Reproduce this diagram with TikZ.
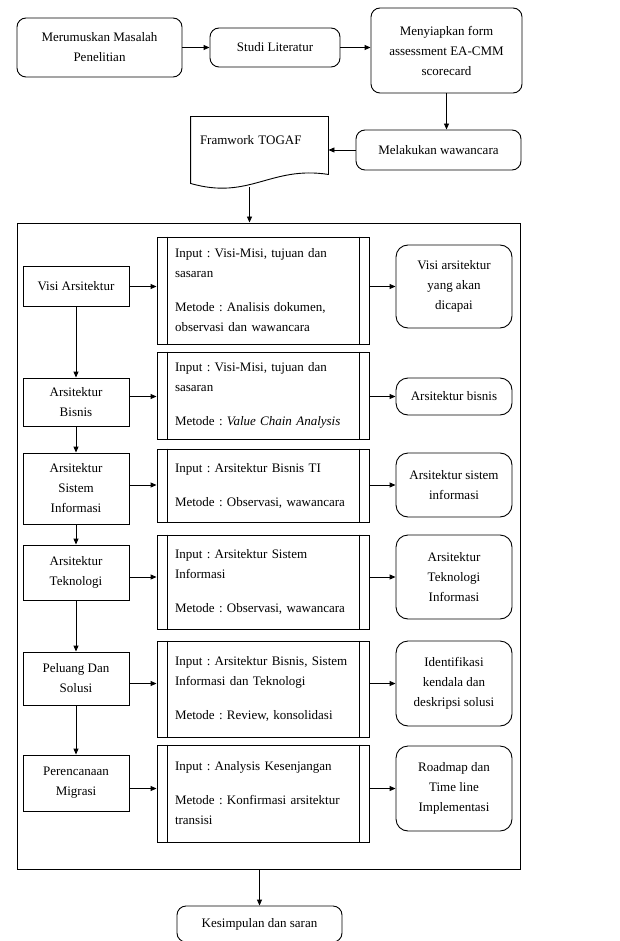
\documentclass[tikz,border=0pt]{standalone}
\usepackage{fontspec}
\setmainfont{Liberation Serif}
\usetikzlibrary{arrows.meta}
\usetikzlibrary{calc}
\frenchspacing

\begin{document}
\begin{tikzpicture}[x=1pt, y=-1pt, line width=0.9pt, >={Triangle[length=6pt,width=5pt]},
        every node/.append style={font=\fontsize{13}{20}\selectfont},
        round_style/.style={rectangle, rounded corners=9pt, draw, align=center, inner sep=2pt},
        result_style/.style={rectangle, rounded corners=12pt, draw, align=center, minimum width=116pt, inner sep=2pt},
        phase_style/.style={rectangle, draw, align=center, minimum width=106pt, inner sep=2pt},
        proc_style/.style={rectangle, draw, align=left, text width=176pt, inner xsep=18pt, inner ysep=2pt,
            append after command={
                ([xshift=11pt]\tikzlastnode.north west) edge[-] ([xshift=11pt]\tikzlastnode.south west)
                ([xshift=-10pt]\tikzlastnode.north east) edge[-] ([xshift=-10pt]\tikzlastnode.south east)}},
        doc_style/.style={rectangle, align=left, text width=119pt, inner xsep=9pt, inner ysep=0pt,
            text height=27.5pt, text depth=42.5pt},
        frame_style/.style={rectangle, draw, minimum width=503pt, minimum height=646pt},
        edge_style/.style={draw=black, ->}]

        \useasboundingbox (0,0) rectangle (619,941);
        \clip (0,0) rectangle (619,941);

        \node [round_style, minimum width=165pt, minimum height=59pt](n1) at (99.5,47.5) {Merumuskan Masalah\\Penelitian};

        \node [round_style, minimum width=130pt, minimum height=39pt](n2) at (275,47.5) {Studi Literatur};

        \node [round_style, minimum width=151pt, minimum height=85pt](n3) at (446.5,50.5) {Menyiapkan form\\assessment EA-CMM\\scorecard};

        \node [round_style, minimum width=165pt, minimum height=40pt](n4) at (438.5,150) {Melakukan wawancara};

        \node [doc_style](n5) at (259.5,152) {Framwork TOGAF};

        \draw (n5.north west) -- (n5.north east) -- ([yshift=13pt]n5.south east)
            .. controls ([xshift=-58pt,yshift=22pt]n5.south east) and ([xshift=59pt,yshift=-13pt]n5.south west)
            .. ([yshift=4pt]n5.south west) -- cycle;

        \node [frame_style](fr) at (268.5,546) {};

        \node [phase_style, minimum height=40pt](a1) at (76,286) {Visi Arsitektur};

        \node [phase_style, minimum height=48pt](a2) at (76,402) {Arsitektur\\Bisnis};

        \node [phase_style, minimum height=71pt](a3) at (76,488.5) {Arsitektur\\Sistem\\Informasi};

        \node [phase_style, minimum height=55pt](a4) at (76,572.5) {Arsitektur\\Teknologi};

        \node [phase_style, minimum height=53pt](a5) at (76,678.5) {Peluang Dan\\Solusi};

        \node [phase_style, minimum height=56pt](a6) at (76,783) {Perencanaan\\Migrasi};

        \node [proc_style, minimum height=107pt](p1) at (263,290.5) {Input : Visi-Misi, tujuan dan\\sasaran\\[14pt]Metode : Analisis dokumen,\\observasi dan wawancara};

        \node [proc_style, minimum height=87pt](p2) at (263,395.5) {Input : Visi-Misi, tujuan dan\\sasaran\\[14pt]Metode : \textit{Value Chain Analysis}};

        \node [proc_style, minimum height=73pt](p3) at (263,485.5) {Input : Arsitektur Bisnis TI\\[14pt]Metode : Observasi, wawancara};

        \node [proc_style, minimum height=94pt](p4) at (263,582) {Input : Arsitektur Sistem\\Informasi\\[14pt]Metode : Observasi, wawancara};

        \node [proc_style, minimum height=96pt](p5) at (263,689) {Input : Arsitektur Bisnis, Sistem\\Informasi dan Teknologi\\[14pt]Metode : Review, konsolidasi};

        \node [proc_style, minimum height=97pt](p6) at (263,793.5) {Input : Analysis Kesenjangan\\[14pt]Metode : Konfirmasi arsitektur\\transisi};

        \node [result_style, minimum height=83pt](h1) at (454,286.5) {Visi arsitektur\\yang akan\\dicapai};

        \node [result_style, minimum height=37pt](h2) at (454,396.5) {Arsitektur bisnis};

        \node [result_style, minimum height=64pt](h3) at (454,485) {Arsitektur sistem\\informasi};

        \node [result_style, minimum height=84pt](h4) at (454,577) {Arsitektur\\Teknologi\\Informasi};

        \node [result_style, minimum height=85pt](h5) at (454,683.5) {Identifikasi\\kendala dan\\deskripsi solusi};

        \node [result_style, minimum height=85pt](h6) at (454,788.5) {Roadmap dan\\Time line\\Implementasi};

        \node [round_style, minimum width=165pt, minimum height=36pt](n6) at (259.5,924) {Kesimpulan dan saran};

        \draw [edge_style] (n1) -- (n2);

        \draw [edge_style] (n2.east) -- (n2.east -| n3.west);

        \draw [edge_style] (n3.south) -- (n3.south |- n4.north);

        \draw [edge_style] (n4.west) -- (n4.west -| n5.east);

        \draw [edge_style] ([xshift=-10pt]n5.south) -- ([xshift=-10pt]n5.south |- fr.north);

        \draw [edge_style] (fr.south -| n6.north) -- (n6.north);

        \draw [edge_style] (a1) -- (a2);

        \draw [edge_style] (a2) -- (a3);

        \draw [edge_style] (a3) -- (a4);

        \draw [edge_style] (a4) -- (a5);

        \draw [edge_style] (a5) -- (a6);

        \draw [edge_style] (a1.east |- h1.west) -- (p1.west |- h1.west);

        \draw [edge_style] (a2.east |- h2.west) -- (p2.west |- h2.west);

        \draw [edge_style] (a3.east |- h3.west) -- (p3.west |- h3.west);

        \draw [edge_style] (a4.east |- h4.west) -- (p4.west |- h4.west);

        \draw [edge_style] (a5.east |- h5.west) -- (p5.west |- h5.west);

        \draw [edge_style] (a6.east |- h6.west) -- (p6.west |- h6.west);

        \draw [edge_style] (p1.east |- h1.west) -- (h1.west);

        \draw [edge_style] (p2.east |- h2.west) -- (h2.west);

        \draw [edge_style] (p3.east |- h3.west) -- (h3.west);

        \draw [edge_style] (p4.east |- h4.west) -- (h4.west);

        \draw [edge_style] (p5.east |- h5.west) -- (h5.west);

        \draw [edge_style] (p6.east |- h6.west) -- (h6.west);

        \end{tikzpicture}
\end{document}
